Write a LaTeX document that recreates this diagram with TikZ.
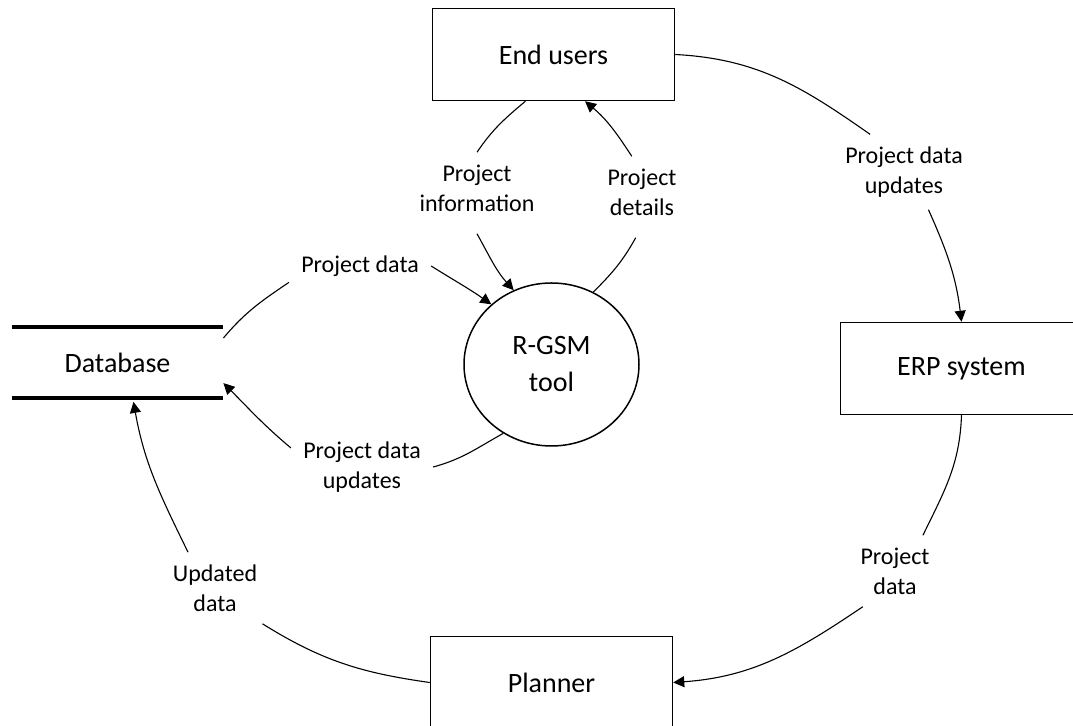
\documentclass[tikz,border=0pt]{standalone}
\usepackage{fontspec}
\setmainfont{Carlito}
\usetikzlibrary{arrows.meta,shapes.geometric}

\begin{document}
\begin{tikzpicture}[x=0.5pt, y=-0.5pt, node distance=155pt,
		box/.style={rectangle, draw, line width=0.75pt, minimum width=121pt, minimum height=46pt, font=\fontsize{14}{18.5}\selectfont},
		lbl/.style={align=center, inner sep=6pt, font=\fontsize{12}{15}\selectfont},
		arr/.style={-{Triangle[length=5.5pt, width=5.5pt]}}]
			\useasboundingbox (0,0) rectangle (1073,726);

			\node[ellipse, draw, line width=0.75pt, minimum width=87.5pt, minimum height=81.5pt, inner sep=0pt, align=center, font=\fontsize{14}{18.5}\selectfont] (1) at (551.5,364.5) {R-GSM\\tool};
			\node[box] (2)[above of = 1, xshift=1] {End users};
			\node[box] (3)[right of = 1, xshift=50, yshift=-2] {ERP system};
			\node[box] (4)[below of = 1, yshift=-4] {Planner};
			\node[minimum width=105.5pt, minimum height=35pt, font=\fontsize{14}{18.5}\selectfont] (5)[left of = 1, xshift=-62, yshift=1] {Database};
			\draw[line width=2pt] (5.north west) -- (5.north east) (5.south west) -- (5.south east);

			% flow labels
			\node[lbl] (6) at (904,172) {Project data\\updates};
			\node[lbl] (7) at (895,571) {Project\\data};
			\node[lbl] (8) at (215,588) {Updated\\data};
			\node[lbl] (9) at (362,467) {Project data\\updates};
			\node[lbl] (10) at (360,266) {Project data};
			\node[lbl] (11) at (477,188) {Project\\information};
			\node[lbl] (12) at (642,192) {Project\\details};

			\path[every edge/.style={draw, line width=0.55pt}]
				(2.east) edge[out=-3, in=145] (6.132)
				(6.-57) edge[arr, out=-66, in=97] (3.north)

				(3.south) edge[out=-92, in=64] (7.52)
				(7.228) edge[arr, out=214, in=4] (4.east)

				(4.west) edge[out=172, in=-32] (8.-37)
				(8.127) edge[arr, out=116, in=-80] ([shift={(8pt,-2pt)}]5.south)

				(1.235) edge[out=209, in=15] (9.east)
				(9.165) edge[arr, out=140, in=-45] (5.-11)

				(5.13) edge[out=50, in=-146] (10.193)
				(10.east) edge[arr, out=-32, in=145] (1.135)

				(2.-121) edge[out=220, in=56] (11.north)
				([yshift=-5pt]11.south) edge[arr, out=-61, in=132] (1.117)

				(1.60) edge[out=45, in=-119] ([yshift=-5pt]12.-100)
				(12.106) edge[arr, out=123, in=-40] (2.-56)
			;
		\end{tikzpicture}
\end{document}
